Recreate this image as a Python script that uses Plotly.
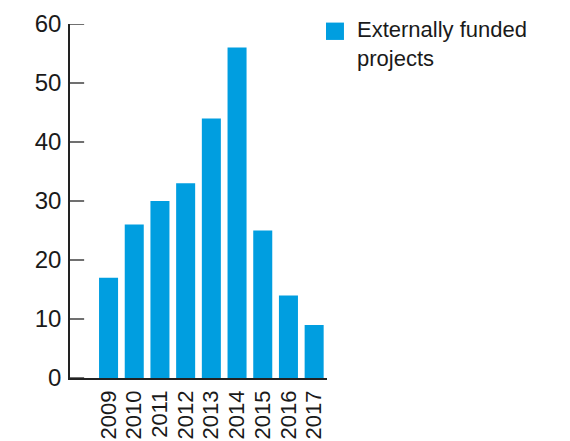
import plotly.graph_objects as go

years = ["2009", "2010", "2011", "2012", "2013", "2014", "2015", "2016", "2017"]
projects = [17, 26, 30, 33, 44, 56, 25, 14, 9]
y_ticks = [0, 10, 20, 30, 40, 50, 60]
series_name = "Externally funded<br>projects"

bar_color = "#009ee0"
text_color = "#1a1a1a"
axis_color = "#222222"
font_family = "Liberation Sans, Arial, sans-serif"

fig = go.Figure()
fig.add_trace(go.Bar(
    x=list(range(len(years))),
    y=projects,
    marker=dict(color=bar_color, line=dict(width=0)),
    width=0.74,
    showlegend=False,
))

# short tick marks pointing into the plot from the value axis
for v in y_ticks:
    fig.add_shape(type="line", xref="paper", yref="y",
                  x0=0, x1=0.055, y0=v, y1=v,
                  line=dict(color=axis_color, width=1.3))

# legend key drawn as a swatch plus label
fig.add_shape(type="rect", xref="paper", yref="paper",
              x0=0.996, x1=1.066, y0=0.955, y1=1.004,
              fillcolor=bar_color, line=dict(width=0))
fig.add_annotation(xref="paper", yref="paper", x=1.11, y=1.025,
                   xanchor="left", yanchor="top", align="left",
                   text=series_name, showarrow=False,
                   font=dict(size=22, color=text_color, family=font_family))

fig.update_layout(
    width=570, height=441,
    margin=dict(l=70, r=243, t=24, b=63),
    paper_bgcolor="white", plot_bgcolor="white",
    font=dict(family=font_family, size=22, color=text_color),
)
fig.update_xaxes(
    range=[-1.5, 8.5], automargin=False,
    tickmode="array", tickvals=list(range(len(years))), ticktext=years,
    tickangle=-90, showgrid=False, zeroline=False,
    showline=True, linecolor=axis_color, linewidth=1.5,
    ticks="", tickfont=dict(size=22, color=text_color),
    ticklabelstandoff=2,
)
fig.update_yaxes(
    range=[0, 60], tickvals=y_ticks, automargin=False,
    showgrid=False, zeroline=False,
    showline=True, linecolor=axis_color, linewidth=1.5,
    ticks="", ticklabelstandoff=2,
    tickfont=dict(size=24, color=text_color),
)

fig.write_html("out.html")
